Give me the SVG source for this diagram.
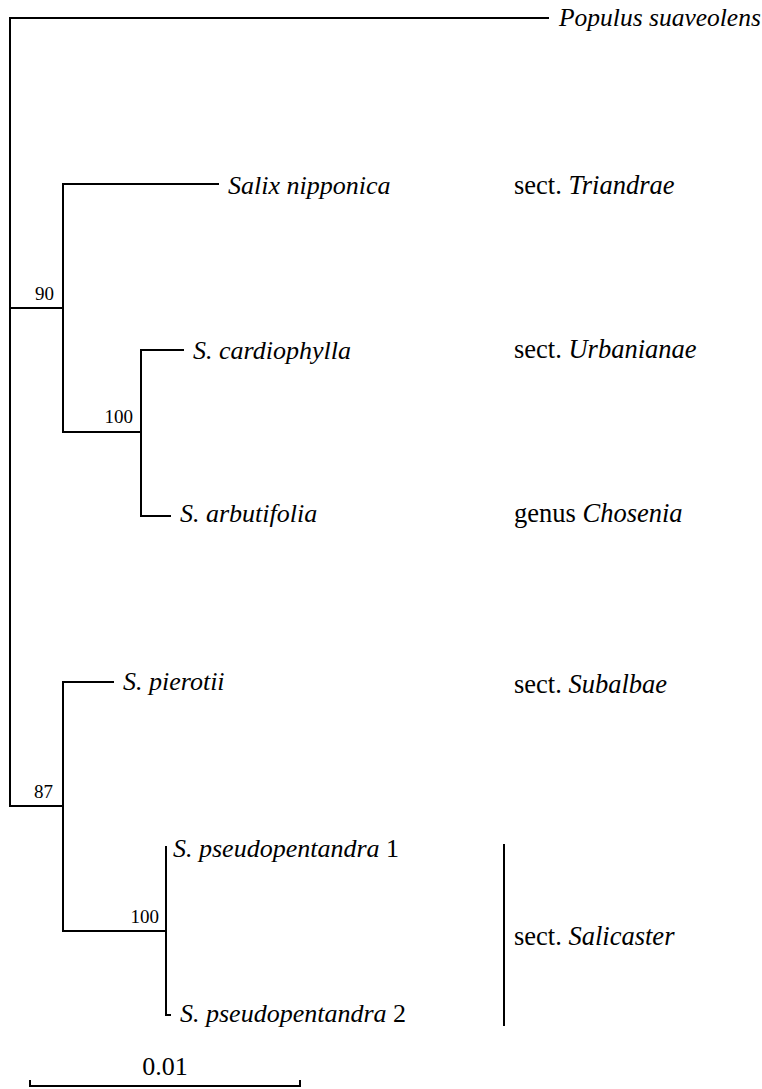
<svg xmlns="http://www.w3.org/2000/svg" width="762" height="1089" viewBox="0 0 762 1089">
<style>
.br{fill:none;stroke:#000;stroke-width:2;stroke-linecap:square}
.i{font-style:italic}
.bs{text-anchor:end}
</style>
<rect width="762" height="1089" fill="#fff"/>
<g id="connectors">
<path class="br" d="M10,18 V806 M10,18 H548"/>
<path class="br" d="M10,308 H63 M63,184 V432 M63,184 H218"/>
<path class="br" d="M63,432 H141 M141,350 V516 M141,350 H183 M141,516 H170"/>
<path class="br" d="M10,806 H63 M63,682 V931 M63,682 H113"/>
<path class="br" d="M63,931 H166 M166,847 V1015 M166,1015 H170"/>
<path class="br" d="M504,844 V1026" style="stroke-linecap:butt"/>
<path class="br" d="M30,1081 V1086 H300 V1081"/>
</g>
<g font-family="Liberation Serif, DejaVu Serif, serif" font-size="26" fill="#000">
<g id="node-populus"><text class="i" x="559" y="26" font-size="25.5">Populus suaveolens</text></g>
<g id="node-nipponica"><text class="i" x="228" y="194">Salix nipponica</text></g>
<g id="node-cardiophylla"><text class="i" x="193" y="359">S. cardiophylla</text></g>
<g id="node-arbutifolia"><text class="i" x="180" y="522">S. arbutifolia</text></g>
<g id="node-pierotii"><text class="i" x="123" y="690">S. pierotii</text></g>
<g id="node-pseudo1"><text x="173" y="857"><tspan class="i">S. pseudopentandra</tspan> 1</text></g>
<g id="node-pseudo2"><text x="180" y="1022"><tspan class="i">S. pseudopentandra</tspan> 2</text></g>
<g id="support" font-size="19">
<text class="bs" x="54" y="300">90</text>
<text class="bs" x="133" y="423">100</text>
<text class="bs" x="53" y="798">87</text>
<text class="bs" x="159" y="923">100</text>
</g>
<g id="groups" font-size="26.5">
<text x="514" y="194">sect. <tspan class="i">Triandrae</tspan></text>
<text x="514" y="358">sect. <tspan class="i">Urbanianae</tspan></text>
<text x="514" y="522">genus <tspan class="i">Chosenia</tspan></text>
<text x="514" y="693">sect. <tspan class="i">Subalbae</tspan></text>
<text x="514" y="945">sect. <tspan class="i">Salicaster</tspan></text>
</g>
<g id="scale"><text x="165" y="1075" text-anchor="middle">0.01</text></g>
</g>
</svg>
